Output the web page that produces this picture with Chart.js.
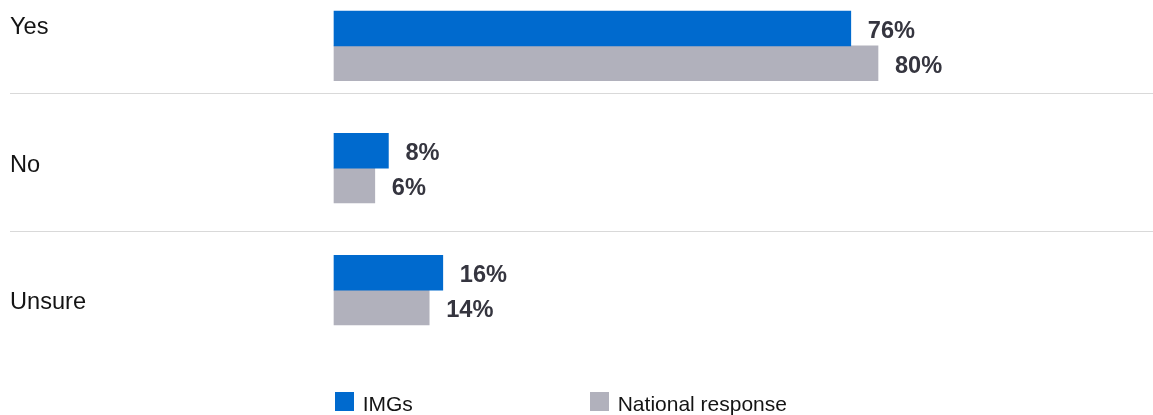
<!DOCTYPE html>
<html>
<head>
<meta charset="utf-8">
<script src="https://cdn.jsdelivr.net/npm/chart.js@4/dist/chart.umd.min.js"></script>
<style>
  html, body { margin: 0; padding: 0; background: #ffffff; }
  #wrap { position: relative; width: 1153px; height: 415px; }
</style>
</head>
<body>
<div id="wrap"><canvas id="c" width="1153" height="415"></canvas></div>
<script>
const categories = ['Yes', 'No', 'Unsure'];
const seriesNames = ['IMGs', 'National response'];
const imgsValues = [76, 8, 16];
const nationalValues = [80, 6, 14];

const COLORS = ['#006ace', '#b1b1bc'];
const FONT = "'Liberation Sans', Arial, Helvetica, sans-serif";

// Row layout for the left-hand category labels and dividers
const ROW_TOP = -44.7, ROW_H = 137.7;

const decorPlugin = {
  id: 'decor',
  afterDatasetsDraw(chart) {
    const ctx = chart.ctx;
    ctx.save();
    // dividers
    ctx.strokeStyle = '#d9d9d9';
    ctx.lineWidth = 1.2;
    for (let i = 1; i < categories.length; i++) {
      const y = Math.round(ROW_TOP + i * ROW_H) + 0.5;
      ctx.beginPath();
      ctx.moveTo(10, y);
      ctx.lineTo(chart.width, y);
      ctx.stroke();
    }
    // category labels
    ctx.fillStyle = '#141414';
    ctx.font = '23.6px ' + FONT;
    ctx.textAlign = 'left';
    ctx.textBaseline = 'alphabetic';
    categories.forEach((c, i) => {
      ctx.fillText(c, 10, ROW_TOP + (i + 0.5) * ROW_H + 9.9);
    });
    // value labels
    ctx.font = 'bold 23.6px ' + FONT;
    ctx.fillStyle = '#35353f';
    chart.data.datasets.forEach((ds, di) => {
      const meta = chart.getDatasetMeta(di);
      meta.data.forEach((bar, i) => {
        ctx.fillText(ds.data[i] + '%', bar.x + 17, bar.y + 9.2);
      });
    });
    // legend
    const legendX = [335, 590];
    ctx.font = '21px ' + FONT;
    chart.data.datasets.forEach((ds, di) => {
      ctx.fillStyle = ds.backgroundColor;
      ctx.fillRect(legendX[di], 392, 19, 19);
      ctx.fillStyle = '#141414';
      ctx.fillText(ds.label, legendX[di] + 27.7, 411);
    });
    ctx.restore();
  }
};

new Chart(document.getElementById('c'), {
  type: 'bar',
  data: {
    labels: categories,
    datasets: [
      { label: seriesNames[0], data: imgsValues, backgroundColor: COLORS[0], barThickness: 34.8, clip: false },
      { label: seriesNames[1], data: nationalValues, backgroundColor: COLORS[1], barThickness: 34.8, clip: false }
    ]
  },
  options: {
    indexAxis: 'y',
    responsive: false,
    animation: false,
    events: [],
    layout: { padding: { left: 334, right: 139, top: 45.9, bottom: 124.8 } },
    scales: {
      x: { display: false, min: 0, max: 100 },
      y: { display: false, offset: false }
    },
    plugins: { legend: { display: false }, tooltip: { enabled: false } }
  },
  plugins: [decorPlugin]
});
</script>
</body>
</html>
